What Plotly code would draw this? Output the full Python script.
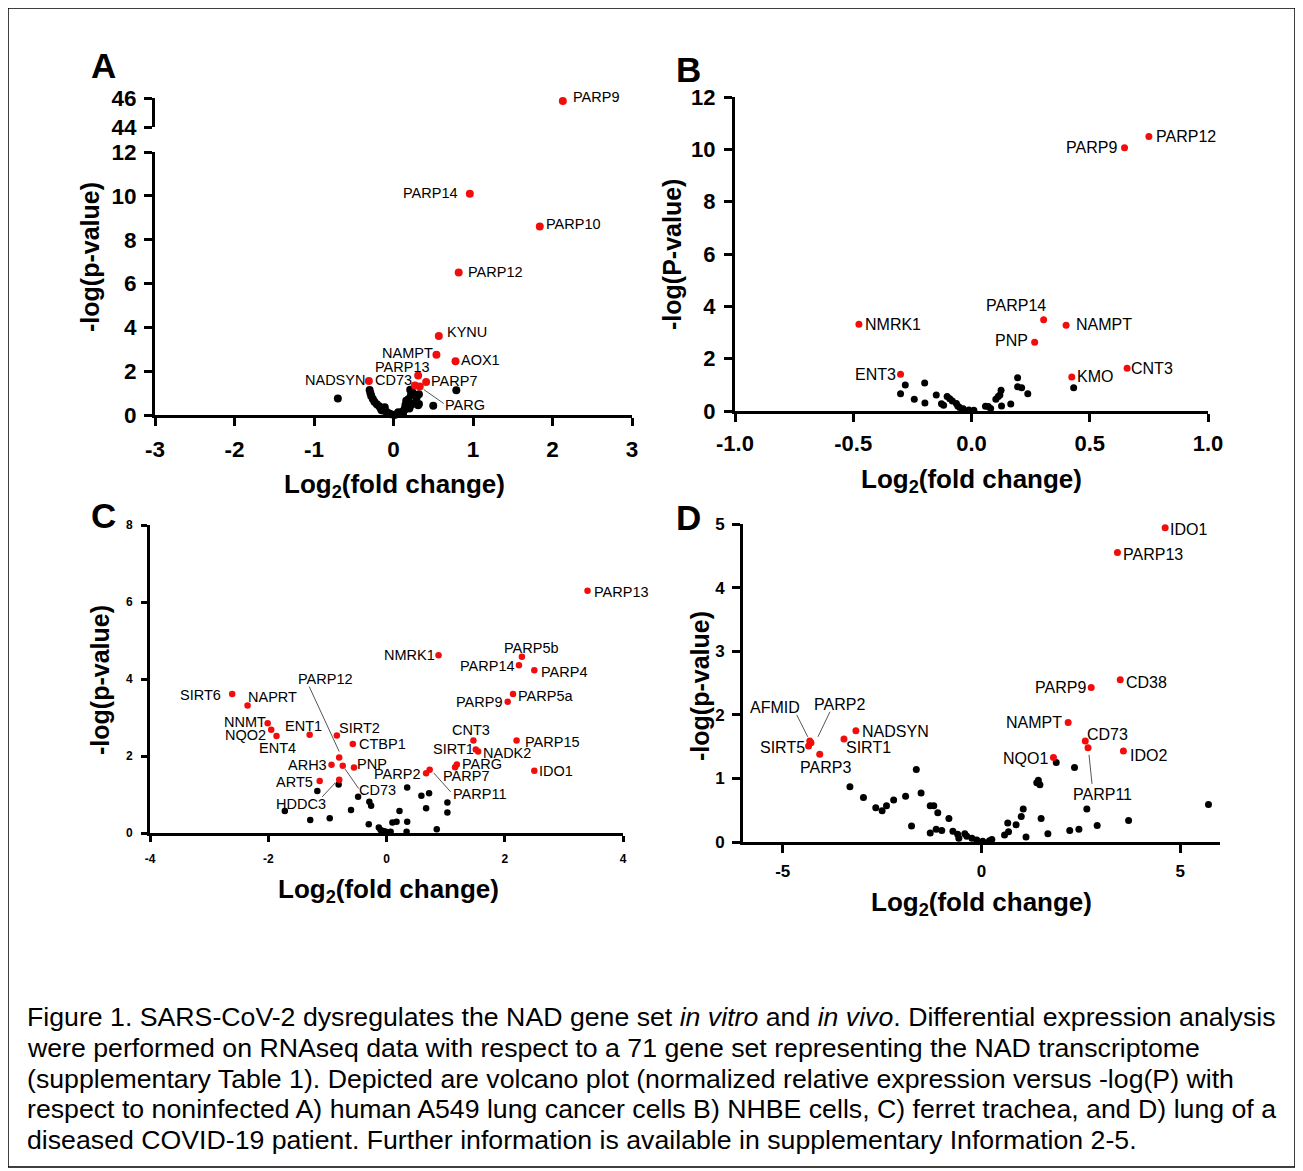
import plotly.graph_objects as go

W, H = 1303, 1171
PAGE_OFFSET = 8  # the browser page adds an 8 px body margin
FONT = "Liberation Sans, Arial, Helvetica, sans-serif"
RED = "#f20d0d"
BLACK = "#000000"

# ---------------- Panel A : A549 cells ----------------
A_sig_genes = ["PARP9", "PARP14", "PARP10", "PARP12", "KYNU", "NAMPT", "AOX1",
               "PARP13", "PARP7", "NADSYN", "CD73", "PARG"]
A_sig_x = [2.13, 0.96, 1.84, 0.82, 0.57, 0.54, 0.78, 0.31, 0.41, -0.31, 0.27, 0.33]
A_sig_y = [45.8, 10.1, 8.6, 6.5, 3.6, 2.75, 2.45, 1.8, 1.5, 1.55, 1.35, 1.3]
A_ns_x = [-0.70, -0.30, -0.29, -0.28, -0.26, -0.24, -0.21, -0.18, -0.16, -0.13, -0.09,
          -0.06, -0.03, 0.01, 0.04, 0.08, 0.11, 0.14, 0.15, 0.17, 0.19, 0.22, 0.24,
          0.29, 0.22, 0.20, 0.26, 0.31, 0.50, 0.79, -0.11, -0.15, 0.06, 0.12, 0.21,
          0.32, 0.32, 0.16, 0.14]
A_ns_y = [0.75, 1.14, 0.99, 0.87, 0.73, 0.61, 0.49, 0.40, 0.30, 0.21, 0.15,
          0.08, 0.03, 0.00, 0.03, 0.08, 0.15, 0.27, 0.46, 0.61, 0.73, 0.91, 1.03,
          0.79, 0.46, 0.30, 0.53, 0.44, 0.42, 1.13, 0.35, 0.22, 0.12, 0.05, 1.15,
          0.95, 0.50, 0.65, 0.24]
A_xticks = [-3, -2, -1, 0, 1, 2, 3]
A_xtick_labels = ["-3", "-2", "-1", "0", "1", "2", "3"]
A_yticks_low = [0, 2, 4, 6, 8, 10, 12]
A_yticks_high = [44, 46]

# ---------------- Panel B : NHBE cells ----------------
B_sig_genes = ["PARP12", "PARP9", "PARP14", "NAMPT", "PNP", "NMRK1", "ENT3", "KMO", "CNT3"]
B_sig_x = [0.75, 0.647, 0.305, 0.40, 0.267, -0.476, -0.30, 0.424, 0.658]
B_sig_y = [10.49, 10.06, 3.49, 3.28, 2.63, 3.32, 1.40, 1.30, 1.63]
B_ns_x = [-0.28, -0.30, -0.198, -0.242, -0.197, -0.149, -0.103, -0.092, -0.081, -0.127,
          -0.118, -0.064, -0.058, -0.05, -0.035, -0.011, 0.01, 0.059, 0.071, 0.081,
          0.103, 0.113, 0.125, 0.120, 0.127, 0.166, 0.195, 0.195, 0.212, 0.238, 0.432]
B_ns_y = [0.99, 0.66, 1.07, 0.45, 0.31, 0.61, 0.55, 0.47, 0.38, 0.28,
          0.22, 0.29, 0.19, 0.13, 0.09, 0.04, 0.03, 0.18, 0.17, 0.10,
          0.45, 0.55, 0.79, 0.61, 0.19, 0.27, 1.27, 0.93, 0.89, 0.66, 0.89]
B_xticks = [-1.0, -0.5, 0.0, 0.5, 1.0]
B_xtick_labels = ["-1.0", "-0.5", "0.0", "0.5", "1.0"]
B_yticks = [0, 2, 4, 6, 8, 10, 12]

# ---------------- Panel C : ferret trachea ----------------
C_sig_genes = ["KYNU", "PARP13", "NMRK1", "PARP5b", "PARP14", "PARP4", "PARP5a", "PARP9",
               "SIRT6", "NAPRT", "NNMT", "NQO2", "ENT4", "ENT1", "SIRT2", "CTBP1",
               "PARP12", "ARH3", "CD73", "PNP", "ART5", "HDDC3", "CNT3", "SIRT1",
               "NADK2", "PARP15", "PARG", "PARP7", "PARP2", "PARP11", "IDO1"]
C_sig_x = [1.89, 3.40, 0.88, 2.29, 2.24, 2.50, 2.14, 2.05,
           -2.61, -2.35, -2.01, -1.95, -1.86, -1.30, -0.84, -0.57,
           -0.80, -0.93, -0.74, -0.55, -1.13, -0.80, 1.47, 1.51,
           1.55, 2.20, 1.19, 1.16, 0.67, 0.73, 2.50]
C_sig_y = [8.13, 6.29, 4.62, 4.58, 4.36, 4.23, 3.61, 3.41,
           3.61, 3.31, 2.85, 2.68, 2.52, 2.55, 2.53, 2.31,
           1.96, 1.77, 1.75, 1.70, 1.35, 1.38, 2.40, 2.17,
           2.12, 2.40, 1.78, 1.71, 1.55, 1.64, 1.62]
C_ns_x = [-0.81, -1.17, -1.72, -1.29, -0.96, -0.60, -0.48, -0.29, -0.26, -0.30,
          -0.13, -0.10, -0.01, 0.07, 0.10, 0.17, 0.22, 0.35, 0.34, 0.35,
          0.59, 0.72, 0.67, 0.85, 1.03, 1.03, 0.00, -0.05]
C_ns_y = [1.26, 1.09, 0.57, 0.34, 0.38, 0.60, 0.94, 0.81, 0.71, 0.23,
          0.14, 0.08, 0.03, 0.03, 0.27, 0.29, 0.57, 0.29, 0.03, 1.18,
          0.97, 1.03, 0.64, 0.10, 0.79, 0.53, 0.02, 0.05]
C_xticks = [-4, -2, 0, 2, 4]
C_xtick_labels = ["-4", "-2", "0", "2", "4"]
C_yticks = [0, 2, 4, 6, 8]

# ---------------- Panel D : COVID-19 patient lung ----------------
D_sig_genes = ["IDO1", "PARP13", "CD38", "PARP9", "NAMPT", "CD73", "PARP11", "IDO2",
               "NQO1", "AFMID", "PARP2", "SIRT5", "PARP3", "SIRT1", "NADSYN"]
D_sig_x = [4.62, 3.42, 3.49, 2.76, 2.18, 2.61, 2.68, 3.57,
           1.81, -4.32, -4.29, -4.35, -4.07, -3.46, -3.16]
D_sig_y = [4.94, 4.55, 2.55, 2.43, 1.88, 1.59, 1.48, 1.43,
           1.33, 1.59, 1.56, 1.51, 1.38, 1.62, 1.75]
D_ns_x = [1.88, 2.34, 1.39, 1.47, 1.43, 2.65, 5.71, 3.70, 2.91, 2.45, 2.22, 1.67,
          1.50, 1.12, 1.05, 1.00, 0.87, 0.66, 0.68, 0.58, 0.26, 0.20, 0.03, -0.12,
          -0.24, -0.37, -0.42, -0.57, -0.60, -0.72, -0.82, -1.00, -1.14, -1.10,
          -1.20, -1.29, -1.29, -1.64, -1.52, -1.76, -1.91, -2.21, -2.39, -2.50,
          -2.66, -2.97, -3.31]
D_ns_y = [1.25, 1.17, 0.93, 0.90, 0.97, 0.52, 0.59, 0.34, 0.26, 0.20, 0.18, 0.13,
          0.37, 0.08, 0.52, 0.40, 0.27, 0.30, 0.16, 0.11, 0.04, 0.02, 0.01, 0.03,
          0.06, 0.09, 0.13, 0.06, 0.12, 0.17, 0.37, 0.18, 0.20, 0.46,
          0.57, 0.57, 0.14, 1.14, 0.77, 0.25, 0.72, 0.66, 0.57, 0.49,
          0.54, 0.70, 0.87]
D_xticks = [-5, 0, 5]
D_xtick_labels = ["-5", "0", "5"]
D_yticks = [0, 1, 2, 3, 4, 5]

# ---------------- label placement (pixel offsets: anchor, dx, dy-up) ----------------
A_lab = {"PARP9": ("left", 8, 4), "PARP14": ("right", -10, 1), "PARP10": ("left", 4, 3),
         "PARP12": ("left", 7, 1), "KYNU": ("left", 6, 4), "NAMPT": ("right", -1, 2),
         "AOX1": ("left", 3, 1), "PARP13": ("right", 14, 9), "PARP7": ("left", 3, 1),
         "NADSYN": ("right", -2, 1), "CD73": ("right", -1, 5), "PARG": ("left", 23, -18)}
A_lead = {"PARG": (4, -3, 24, -17)}

B_lab = {"PARP12": ("left", 5, 0), "PARP9": ("right", -6, 0), "PARP14": ("right", 4, 14),
         "NAMPT": ("left", 8, 1), "PNP": ("right", -5, 2), "NMRK1": ("left", 4, 0),
         "ENT3": ("right", -3, 0), "KMO": ("left", 3, 0), "CNT3": ("left", 2, 0)}
B_lead = {}

C_lab = {"KYNU": ("left", 4, 0), "PARP13": ("left", 4, -1), "NMRK1": ("right", -2, 0),
         "PARP5b": ("left", -20, 9), "PARP14": ("right", -2, -1), "PARP4": ("left", 5, -2),
         "PARP5a": ("left", 3, -2), "PARP9": ("right", -4, 0), "SIRT6": ("right", -9, -1),
         "NAPRT": ("left", -2, 9), "NNMT": ("right", 0, 1), "NQO2": ("right", -3, -5),
         "ENT4": ("center", 1, -12), "ENT1": ("center", -6, 9), "SIRT2": ("left", 0, 8),
         "CTBP1": ("left", 4, 0), "PARP12": ("center", -14, 79), "ARH3": ("right", -3, 0),
         "CD73": ("left", 14, -24), "PNP": ("left", 1, 4), "ART5": ("right", -5, -1),
         "HDDC3": ("center", -38, -24), "CNT3": ("center", -2, 11), "SIRT1": ("right", 0, 0),
         "NADK2": ("left", 3, -2), "PARP15": ("left", 6, -1), "PARG": ("left", 3, 0),
         "PARP7": ("left", -14, -9), "PARP2": ("right", -4, -1), "PARP11": ("left", 21, -24),
         "IDO1": ("left", 3, 0)}
C_lead = {"PARP12": (0, 6, -30, 71), "CD73": (2, -3, 16, -23),
          "HDDC3": (-4, -3, -17, -17), "PARP11": (4, -3, 21, -22)}

D_lab = {"IDO1": ("left", 3, -2), "PARP13": ("left", 4, -2), "CD38": ("left", 4, -3),
         "PARP9": ("right", -3, 0), "NAMPT": ("right", -4, 0), "CD73": ("left", 0, 6),
         "PARP11": ("center", 14, -47), "IDO2": ("left", 5, -4), "NQO1": ("right", -3, -1),
         "AFMID": ("center", -35, 33), "PARP2": ("center", 29, 38), "SIRT5": ("right", -2, -2),
         "PARP3": ("center", 6, -13), "SIRT1": ("left", 0, -9), "NADSYN": ("left", 4, -1)}
D_lead = {"AFMID": (-2, 4, -13, 26), "PARP2": (7, 6, 19, 31), "PARP11": (1, -7, 4, -36)}


# ---------------- panel geometry (screen pixels of the 1303x1171 picture) ----------------
def fx(p):
    return (p - PAGE_OFFSET) / W


def fy(p):
    return 1 - (p - PAGE_OFFSET) / H


fig = go.Figure()


def axis_style(rng, ticks, size, standoff, ticklen=8, labels=None, visible=True):
    d = dict(range=rng, tickvals=ticks, showline=True, linecolor=BLACK, linewidth=3,
             ticks="outside", ticklen=ticklen, tickwidth=3, tickcolor=BLACK,
             showgrid=False, zeroline=False, fixedrange=True, automargin=False,
             ticklabelstandoff=standoff,
             tickfont=dict(family=FONT, size=size, color=BLACK, weight="bold"),
             visible=visible)
    if labels is not None:
        d["ticktext"] = labels
    return d


lay = {}
# Panel A lower / upper (broken y axis)
lay["xaxis"] = dict(axis_style([-3, 3], A_xticks, 22.5, 4, labels=A_xtick_labels),
                    domain=[fx(155), fx(632)], anchor="y")
lay["yaxis"] = dict(axis_style([0, 12], A_yticks_low, 22.5, 3), domain=[fy(415), fy(152)], anchor="x")
lay["xaxis2"] = dict(range=[-3, 3], visible=False, domain=[fx(155), fx(632)], anchor="y2",
                     fixedrange=True, automargin=False)
lay["yaxis2"] = dict(axis_style([44, 46], A_yticks_high, 22.5, 3), domain=[fy(127), fy(98)], anchor="x2")
# Panel B
lay["xaxis3"] = dict(axis_style([-1, 1], B_xticks, 22, 3, labels=B_xtick_labels),
                     domain=[fx(735), fx(1208)], anchor="y3")
lay["yaxis3"] = dict(axis_style([0, 12], B_yticks, 22, 4), domain=[fy(411), fy(97)], anchor="x3")
# Panel C
lay["xaxis4"] = dict(axis_style([-4, 4], C_xticks, 12, 7, ticklen=6, labels=C_xtick_labels),
                     domain=[fx(150), fx(623)], anchor="y4")
lay["yaxis4"] = dict(axis_style([0, 8], C_yticks, 12, 6, ticklen=6), domain=[fy(833), fy(525)], anchor="x4")
# Panel D
lay["xaxis5"] = dict(axis_style([-6, 6], D_xticks, 17, 4, labels=D_xtick_labels),
                     domain=[fx(743), fx(1220)], anchor="y5")
lay["yaxis5"] = dict(axis_style([0, 5], D_yticks, 17, 4), domain=[fy(842), fy(524)], anchor="x5")


def add_points(xs, ys, color, size, xa, ya):
    fig.add_trace(go.Scatter(x=xs, y=ys, mode="markers", xaxis=xa, yaxis=ya,
                             marker=dict(color=color, size=size, line=dict(width=0)),
                             cliponaxis=False, showlegend=False, hoverinfo="skip"))


annotations = []
shapes = []


def add_labels(genes, xs, ys, lab, lead, fsize, xref, yref, split=None):
    for g, x, y in zip(genes, xs, ys):
        xr, yr = xref, yref
        if split is not None and y > split[0]:
            xr, yr = split[1], split[2]
        anchor, dx, dy = lab[g]
        annotations.append(dict(x=x, y=y, xref=xr, yref=yr, text=g, showarrow=False,
                                xanchor=anchor, yanchor="middle", xshift=dx, yshift=dy,
                                font=dict(family=FONT, size=fsize, color=BLACK)))
        if g in lead:
            x0, y0, x1, y1 = lead[g]
            shapes.append(dict(type="line", xref=xr, yref=yr, xsizemode="pixel", ysizemode="pixel",
                               xanchor=x, yanchor=y, x0=x0, x1=x1, y0=y0, y1=y1,
                               line=dict(color="#555555", width=1)))


# Panel A
add_points(A_ns_x, A_ns_y, BLACK, 8, "x", "y")
A_low = [(g, x, y) for g, x, y in zip(A_sig_genes, A_sig_x, A_sig_y) if y <= 12]
A_high = [(g, x, y) for g, x, y in zip(A_sig_genes, A_sig_x, A_sig_y) if y > 12]
add_points([p[1] for p in A_low], [p[2] for p in A_low], RED, 8, "x", "y")
add_points([p[1] for p in A_high], [p[2] for p in A_high], RED, 8, "x2", "y2")
add_labels(A_sig_genes, A_sig_x, A_sig_y, A_lab, A_lead, 14.5, "x", "y", split=(12, "x2", "y2"))

# Panel B
add_points(B_ns_x, B_ns_y, BLACK, 7, "x3", "y3")
add_points(B_sig_x, B_sig_y, RED, 7, "x3", "y3")
add_labels(B_sig_genes, B_sig_x, B_sig_y, B_lab, B_lead, 16, "x3", "y3")

# Panel C
add_points(C_ns_x, C_ns_y, BLACK, 6.5, "x4", "y4")
add_points(C_sig_x, C_sig_y, RED, 6.5, "x4", "y4")
add_labels(C_sig_genes, C_sig_x, C_sig_y, C_lab, C_lead, 14.5, "x4", "y4")

# Panel D
add_points(D_ns_x, D_ns_y, BLACK, 7, "x5", "y5")
add_points(D_sig_x, D_sig_y, RED, 7, "x5", "y5")
add_labels(D_sig_genes, D_sig_x, D_sig_y, D_lab, D_lead, 16, "x5", "y5")


def paper_text(text, px, py, size, bold=False, angle=0, anchor="center"):
    annotations.append(dict(x=fx(px), y=fy(py), xref="paper", yref="paper", text=text,
                            showarrow=False, xanchor=anchor, yanchor="middle", textangle=angle,
                            font=dict(family=FONT, size=size, color=BLACK,
                                      weight="bold" if bold else "normal")))


# panel letters
for letter, px, py in [("A", 103, 65), ("B", 688, 70), ("C", 103, 515), ("D", 688, 518)]:
    paper_text(letter, px, py, 35, bold=True)

XT = "Log<sub>2</sub>(fold change)"
paper_text(XT, 394, 485, 26, bold=True)
paper_text("-log(p-value)", 90, 257, 25, bold=True, angle=-90)
paper_text(XT, 971, 480, 26, bold=True)
paper_text("-log(P-value)", 672, 255, 25, bold=True, angle=-90)
paper_text(XT, 388, 890, 26, bold=True)
paper_text("-log(p-value)", 100, 680, 25, bold=True, angle=-90)
paper_text(XT, 981, 904, 26, bold=True)
paper_text("-log(p-value)", 700, 686, 25, bold=True, angle=-90)

caption = [
    "Figure 1. SARS-CoV-2 dysregulates the NAD gene set <i>in vitro</i> and <i>in vivo</i>. Differential expression analysis",
    "were performed on RNAseq data with respect to a 71 gene set representing the NAD transcriptome",
    "(supplementary Table 1). Depicted are volcano plot (normalized relative expression versus -log(P) with",
    "respect to noninfected A) human A549 lung cancer cells B) NHBE cells, C) ferret trachea, and D) lung of a",
    "diseased COVID-19 patient. Further information is available in supplementary Information 2-5.",
]
for i, line in enumerate(caption):
    paper_text(line, 25, 1017 + 30.8 * i, 26.7, anchor="left")

shapes.append(dict(type="rect", xref="paper", yref="paper", x0=fx(8), x1=fx(1295),
                   y0=fy(1167), y1=fy(8), line=dict(color=BLACK, width=1.5)))

fig.update_layout(width=W, height=H, autosize=False,
                  margin=dict(l=0, r=0, t=0, b=0, pad=0, autoexpand=False),
                  paper_bgcolor="white", plot_bgcolor="rgba(0,0,0,0)",
                  annotations=annotations, shapes=shapes, showlegend=False, **lay)

fig.write_html("out.html")
